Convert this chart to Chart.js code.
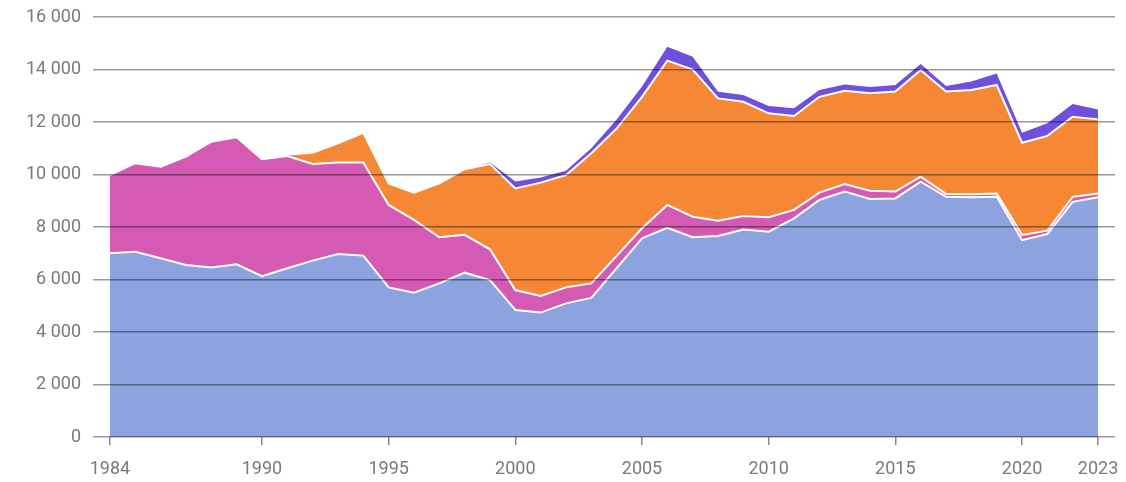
<!DOCTYPE html>
<html>
<head>
<meta charset="utf-8">
<script src="https://cdn.jsdelivr.net/npm/chart.js@4"></script>
<style>
  html, body { margin: 0; padding: 0; background: #fff; }
  #wrap { width: 1126px; height: 482px; position: relative; }
</style>
</head>
<body>
<div id="wrap"><canvas id="c" width="1126" height="482"></canvas></div>
<script>
const years = [1984,1985,1986,1987,1988,1989,1990,1991,1992,1993,1994,1995,1996,1997,1998,1999,
  2000,2001,2002,2003,2004,2005,2006,2007,2008,2009,2010,2011,2012,2013,2014,2015,2016,2017,2018,2019,
  2020,2021,2022,2023];

const seriesBlue = [7000,7060,6810,6550,6460,6580,6130,6430,6720,6970,6910,5700,5500,5850,6260,5980,
  4840,4740,5090,5300,6430,7570,7970,7610,7660,7900,7820,8330,9030,9350,9070,9090,9730,9150,9130,9150,
  7500,7730,8960,9130];

const seriesMagenta = [2980,3370,3490,4130,4790,4840,4450,4270,3680,3490,3550,3140,2770,1760,1440,1170,
  760,630,610,550,470,380,870,780,580,520,550,320,280,290,310,260,190,110,120,130,
  200,130,190,150];

const seriesOrange = [0,0,0,0,0,0,0,60,430,730,1130,820,1040,2050,2500,3250,
  3870,4320,4280,4960,4850,5010,5500,5610,4660,4350,3960,3580,3650,3550,3720,3810,4060,3900,3970,4130,
  3510,3610,3050,2820];

const seriesPurple = [0,0,0,0,0,0,0,0,0,0,0,0,0,0,0,60,
  260,200,160,190,350,390,530,490,250,260,280,290,260,240,230,250,230,210,320,440,
  380,480,490,380];

const xTicks = [1984,1990,1995,2000,2005,2010,2015,2020,2023];
const yTicks = [0,2000,4000,6000,8000,10000,12000,14000,16000];

const toPts = arr => years.map((yr, i) => ({ x: yr, y: arr[i] }));

function zeroAware(arr, color) {
  return ctx => (arr[ctx.p0DataIndex] === 0 && arr[ctx.p1DataIndex] === 0) ? 'rgba(0,0,0,0)' : color;
}

function fmt(v) {
  return String(v).replace(/\B(?=(\d{3})+(?!\d))/g, ' ');
}

const FONT = { family: 'Roboto', size: 18 };

new Chart(document.getElementById('c'), {
  type: 'line',
  data: {
    datasets: [
      {
        data: toPts(seriesBlue),
        backgroundColor: '#8da3df',
        borderColor: '#ffffff',
        borderWidth: 2,
        fill: 'origin',
        pointRadius: 0,
        tension: 0
      },
      {
        data: toPts(seriesMagenta),
        backgroundColor: '#d45ab4',
        borderColor: '#ffffff',
        borderWidth: 2,
        fill: '-1',
        pointRadius: 0,
        tension: 0
      },
      {
        data: toPts(seriesOrange),
        backgroundColor: '#f58735',
        borderColor: '#ffffff',
        borderWidth: 2,
        fill: '-1',
        pointRadius: 0,
        tension: 0,
        segment: { borderColor: zeroAware(seriesOrange, '#ffffff') }
      },
      {
        data: toPts(seriesPurple),
        backgroundColor: '#6f4fdb',
        borderColor: '#6f4fdb',
        borderWidth: 0,
        fill: '-1',
        pointRadius: 0,
        tension: 0
      }
    ]
  },
  options: {
    responsive: false,
    animation: false,
    layout: { padding: { top: 17, right: 11, left: 0, bottom: 0 } },
    plugins: { legend: { display: false }, tooltip: { enabled: false } },
    scales: {
      x: {
        type: 'linear',
        min: 1983.33,
        max: 2023.67,
        border: { display: false },
        grid: {
          drawOnChartArea: false,
          drawTicks: true,
          tickLength: 8,
          color: '#8a8a8a',
          lineWidth: 1.5
        },
        afterBuildTicks: axis => { axis.ticks = xTicks.map(v => ({ value: v })); },
        afterFit: s => { s.height = 45; s.paddingLeft = 0; s.paddingRight = 0; },
        ticks: {
          autoSkip: false,
          maxRotation: 0,
          padding: 14,
          color: '#7a7a7a',
          font: FONT,
          callback: v => String(v)
        }
      },
      y: {
        stacked: true,
        min: 0,
        max: 16000,
        z: 1,
        border: { display: false },
        grid: {
          z: 1,
          drawTicks: false,
          color: 'rgba(0,0,0,0.4)',
          lineWidth: 1.5
        },
        afterBuildTicks: axis => { axis.ticks = yTicks.map(v => ({ value: v })); },
        afterFit: s => { s.width = 93; s.paddingTop = 0; s.paddingBottom = 0; },
        ticks: {
          padding: 12,
          color: '#7a7a7a',
          font: FONT,
          callback: v => fmt(v)
        }
      }
    }
  }
});
</script>
</body>
</html>
